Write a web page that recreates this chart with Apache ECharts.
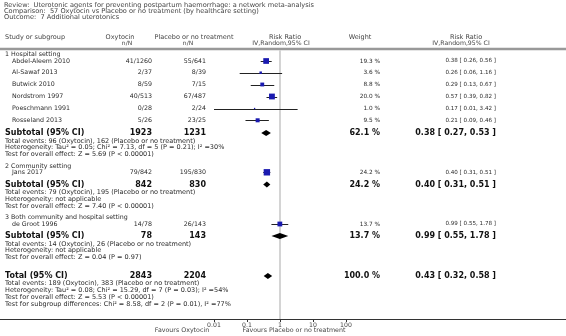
<!DOCTYPE html>
<html>
<head>
<meta charset="utf-8">
<script src="https://cdn.jsdelivr.net/npm/echarts@6/dist/echarts.min.js"></script>
<style>
  html, body { margin: 0; padding: 0; background: #fff; }
  #forest { width: 566px; height: 336px; }
</style>
</head>
<body>
<div id="forest"></div>
<script>
// header text
var reviewLines = [
    'Review:  Uterotonic agents for preventing postpartum haemorrhage: a network meta-analysis',
    'Comparison:  57 Oxytocin vs Placebo or no treatment (by healthcare setting)',
    'Outcome:  7 Additional uterotonics'
];

// studies
var studyNames = ['Abdel-Aleem 2010', 'Al-Sawaf 2013', 'Butwick 2010', 'Nordstrom 1997', 'Poeschmann 1991', 'Rosseland 2013', 'Jans 2017', 'de Groot 1996'];
var studyGroup = [0, 0, 0, 0, 0, 0, 1, 2];
var oxyEvents = [41, 2, 8, 40, 0, 5, 79, 14];
var oxyTotal = [1260, 37, 59, 513, 28, 26, 842, 78];
var plcEvents = [55, 8, 7, 67, 2, 23, 195, 26];
var plcTotal = [641, 39, 15, 487, 24, 25, 830, 143];
var weights = [19.3, 3.6, 8.8, 20.0, 1.0, 9.5, 24.2, 13.7];
var riskRatio = [0.38, 0.26, 0.29, 0.57, 0.17, 0.21, 0.40, 0.99];
var ciLow = [0.26, 0.06, 0.13, 0.39, 0.01, 0.09, 0.31, 0.55];
var ciHigh = [0.56, 1.16, 0.67, 0.82, 3.42, 0.46, 0.51, 1.78];

// subgroups
var groupNames = ['1 Hospital setting', '2 Community setting', '3 Both community and hospital setting'];
var subOxyTotal = [1923, 842, 78];
var subPlcTotal = [1231, 830, 143];
var subWeight = [62.1, 24.2, 13.7];
var subRR = [0.38, 0.40, 0.99];
var subLow = [0.27, 0.31, 0.55];
var subHigh = [0.53, 0.51, 1.78];
var subNotes = [
    ['Total events: 96 (Oxytocin), 162 (Placebo or no treatment)',
     'Heterogeneity: Tau² = 0.05; Chi² = 7.13, df = 5 (P = 0.21); I² =30%',
     'Test for overall effect: Z = 5.69 (P < 0.00001)'],
    ['Total events: 79 (Oxytocin), 195 (Placebo or no treatment)',
     'Heterogeneity: not applicable',
     'Test for overall effect: Z = 7.40 (P < 0.00001)'],
    ['Total events: 14 (Oxytocin), 26 (Placebo or no treatment)',
     'Heterogeneity: not applicable',
     'Test for overall effect: Z = 0.04 (P = 0.97)']
];

// overall
var totalOxy = 2843;
var totalPlc = 2204;
var totalWeight = 100.0;
var totalRR = 0.43;
var totalLow = 0.32;
var totalHigh = 0.58;
var totalNotes = [
    'Total events: 189 (Oxytocin), 383 (Placebo or no treatment)',
    'Heterogeneity: Tau² = 0.08; Chi² = 15.29, df = 7 (P = 0.03); I² =54%',
    'Test for overall effect: Z = 5.53 (P < 0.00001)',
    'Test for subgroup differences: Chi² = 8.58, df = 2 (P = 0.01), I² =77%'
];

var tickLabels = ['0.01', '0.1', '1', '10', '100'];
var favourLeft = 'Favours Oxytocin';
var favourRight = 'Favours Placebo or no treatment';

// ---- layout (pixel rows) ----
var FONT = 'DejaVu Sans';
var studyY = [61, 72.7, 84.5, 96.5, 108.5, 120.3, 172.3, 224];
var groupY = [54, 166.3, 217];
var subY = [133, 184.5, 236];
var totalY = 276;
var noteGap = 6.8;
var SZ = 6.3, SZB = 8, SZN = 6.5;

var chart = echarts.init(document.getElementById('forest'));

function fmt2(v) { return v.toFixed(2); }
function ciText(r, l, h) { return fmt2(r) + ' [ ' + fmt2(l) + ', ' + fmt2(h) + ' ]'; }

var texts = [];
function txt(s, x, y, opt) {
    opt = opt || {};
    texts.push({
        type: 'text', x: x, y: y, silent: true,
        style: {
            text: s, fill: opt.color || '#2a2a2a',
            font: (opt.bold ? 'bold ' : '') + (opt.size || SZ) + 'px "' + FONT + '"',
            textAlign: opt.align || 'left', textVerticalAlign: 'middle'
        }
    });
}
function bold(align) { return {bold: true, size: SZB, color: '#111', align: align}; }

// header
reviewLines.forEach(function (s, i) { txt(s, 4, 5 + i * 6.3, {color: '#444', size: 6.6}); });
txt('Study or subgroup', 5, 37, {color: '#444', size: 6.5});
txt('Oxytocin', 120, 37, {align: 'center', color: '#444', size: 6.5});
txt('n/N', 127, 43, {align: 'center', color: '#444', size: 6});
txt('Placebo or no treatment', 194, 37, {align: 'center', color: '#444', size: 6.5});
txt('n/N', 188, 43, {align: 'center', color: '#444', size: 6});
txt('Risk Ratio', 285, 37, {align: 'center', color: '#444', size: 6.5});
txt('IV,Random,95% CI', 281, 43, {align: 'center', color: '#444', size: 6.2});
txt('Weight', 360, 37, {align: 'center', color: '#444', size: 6.5});
txt('Risk Ratio', 466, 37, {align: 'center', color: '#444', size: 6.5});
txt('IV,Random,95% CI', 461, 43, {align: 'center', color: '#444', size: 6.2});

// study rows
studyNames.forEach(function (name, i) {
    var y = studyY[i];
    txt(name, 12, y);
    txt(oxyEvents[i] + '/' + oxyTotal[i], 152, y, {align: 'right'});
    txt(plcEvents[i] + '/' + plcTotal[i], 206, y, {align: 'right'});
    txt(weights[i].toFixed(1) + ' %', 380, y, {align: 'right', size: 5.8});
    txt(ciText(riskRatio[i], ciLow[i], ciHigh[i]), 496, y, {align: 'right', size: 5.6});
});

// subgroup rows
groupNames.forEach(function (g, k) {
    txt(g, 5, groupY[k]);
    var y = subY[k];
    txt('Subtotal (95% CI)', 5, y, bold('left'));
    txt(String(subOxyTotal[k]), 152, y, bold('right'));
    txt(String(subPlcTotal[k]), 206, y, bold('right'));
    txt(subWeight[k].toFixed(1) + ' %', 380, y, bold('right'));
    txt(ciText(subRR[k], subLow[k], subHigh[k]), 496, y, bold('right'));
    subNotes[k].forEach(function (s, j) { txt(s, 5, y + 8 + j * noteGap, {size: SZN}); });
});

// total row
txt('Total (95% CI)', 5, totalY, bold('left'));
txt(String(totalOxy), 152, totalY, bold('right'));
txt(String(totalPlc), 206, totalY, bold('right'));
txt(totalWeight.toFixed(1) + ' %', 380, totalY, bold('right'));
txt(ciText(totalRR, totalLow, totalHigh), 496, totalY, bold('right'));
totalNotes.forEach(function (s, j) { txt(s, 5, totalY + 7.5 + j * noteGap, {size: SZN}); });

txt(favourLeft, 182, 330.5, {align: 'center', color: '#444', size: 6.3});
txt(favourRight, 294, 330.5, {align: 'center', color: '#444', size: 6.3});

// rules
texts.push({type: 'line', silent: true, shape: {x1: 0, y1: 49, x2: 566, y2: 49},
    style: {stroke: '#999', lineWidth: 2.5}});
texts.push({type: 'line', silent: true, shape: {x1: 0, y1: 319.5, x2: 566, y2: 319.5},
    style: {stroke: '#333', lineWidth: 1}});

// series data
var studyPts = studyNames.map(function (n, i) { return [riskRatio[i], studyY[i], weights[i], ciLow[i], ciHigh[i]]; });
var diamonds = subRR.map(function (r, k) { return [r, subY[k], subLow[k], subHigh[k]]; });
diamonds.push([totalRR, totalY, totalLow, totalHigh]);

chart.setOption({
    animation: false,
    grid: {left: 214, right: 220, top: 50, bottom: 17},
    xAxis: {
        type: 'log', logBase: 10, min: 0.01, max: 100,
        axisLine: {show: false},
        axisTick: {show: true, length: 3, lineStyle: {color: '#333'}},
        axisLabel: {
            fontSize: 6.2, fontFamily: FONT, color: '#444', margin: 3,
            formatter: function (v, idx) { return tickLabels[idx]; }
        },
        splitLine: {show: false}
    },
    yAxis: {type: 'value', min: 50, max: 319, inverse: true, show: false},
    graphic: texts,
    series: [
        {
            // line of no effect, kept under all marks
            type: 'scatter', name: 'noEffect', data: [], z: 0,
            markLine: {
                silent: true, symbol: 'none', label: {show: false}, z: 0,
                lineStyle: {color: '#d4d4d4', width: 2, type: 'solid'},
                data: [{xAxis: 1}]
            }
        },
        {
            type: 'custom', name: 'ci',
            data: studyPts,
            renderItem: function (params, api) {
                var a = api.coord([api.value(3), api.value(1)]);
                var b = api.coord([api.value(4), api.value(1)]);
                return {type: 'line', shape: {x1: a[0], y1: Math.round(a[1]) + 0.5, x2: b[0], y2: Math.round(b[1]) + 0.5},
                    style: {stroke: '#222', lineWidth: 1}};
            },
            z: 5
        },
        {
            type: 'scatter', name: 'study',
            data: studyPts,
            symbol: 'rect',
            symbolSize: function (v) { return Math.sqrt(v[2]) * 1.3; },
            itemStyle: {color: '#1a1ab0', opacity: 1},
            z: 6
        },
        {
            type: 'custom', name: 'pooled',
            data: diamonds,
            renderItem: function (params, api) {
                var c = api.coord([api.value(0), api.value(1)]);
                var l = api.coord([api.value(2), api.value(1)]);
                var h = api.coord([api.value(3), api.value(1)]);
                var hh = 3;
                return {type: 'polygon', shape: {points: [[l[0], c[1]], [c[0], c[1] - hh], [h[0], c[1]], [c[0], c[1] + hh]]},
                    style: {fill: '#000'}};
            },
            z: 6
        }
    ]
});
</script>
</body>
</html>
